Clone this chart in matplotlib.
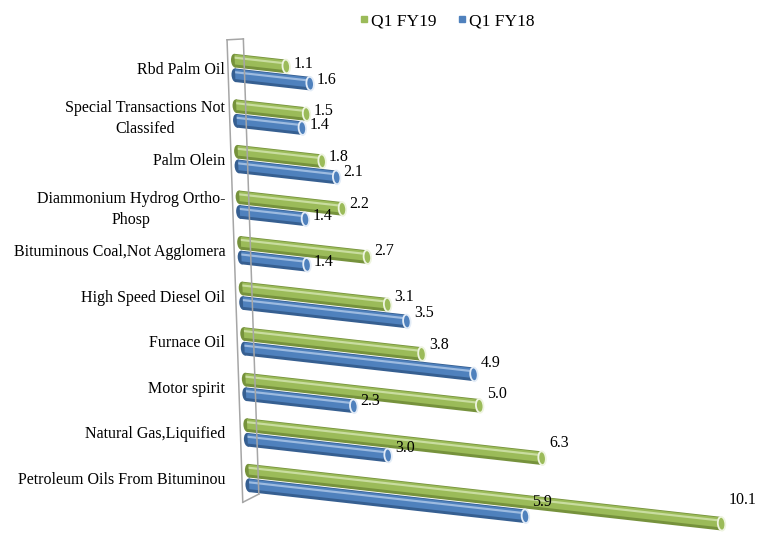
import numpy as np
import matplotlib
matplotlib.use("Agg")
import matplotlib.pyplot as plt
from matplotlib.transforms import Affine2D, ScaledTranslation
from matplotlib.patches import Ellipse
from matplotlib.lines import Line2D

categories = ["Rbd Palm Oil",
              "Special Transactions Not\nClassifed",
              "Palm Olein",
              "Diammonium Hydrog Ortho-\nPhosp",
              "Bituminous Coal,Not Agglomera",
              "High Speed Diesel Oil",
              "Furnace Oil",
              "Motor spirit",
              "Natural Gas,Liquified",
              "Petroleum Oils From Bituminou"]
fy19 = [1.1, 1.5, 1.8, 2.2, 2.7, 3.1, 3.8, 5.0, 6.3, 10.1]
fy18 = [1.6, 1.4, 2.1, 1.4, 1.4, 3.5, 4.9, 2.3, 3.0, 5.9]
series_names = ["Q1 FY19", "Q1 FY18"]

# colours: base, dark, light, cap rim
green = ("#9BBB59", "#76923C", "#C9DDA0", "#EEF4E0")
blue = ("#4F81BD", "#365F91", "#9DBBE0", "#E3ECF7")

plt.rcParams['font.family'] = ['Liberation Serif', 'DejaVu Serif']
plt.rcParams['font.size'] = 11.5

W, H = 763, 538
fig = plt.figure(figsize=(W / 100, H / 100), dpi=100)
ax = fig.add_axes([235 / W, 18 / H, 515 / W, 490 / H])
ax.set_xlim(0, 11)
ax.set_ylim(9.921, -0.833)
for sp in ax.spines.values():
    sp.set_visible(False)
ax.set_xticks([])
ax.set_yticks(range(len(categories)))
ax.set_yticklabels(categories)
ax.tick_params(axis='y', length=0, pad=7)
for t in ax.get_yticklabels():
    t.set_multialignment('center')
    t.set_linespacing(1.45)

# fake 3d perspective: shear around the top-left corner of the plot
ox, oy = ax.transData.transform((0, 0))


def shear(c, s):
    m = np.array([[1, -c, 0], [-s, 1, 0], [0, 0, 1]])
    return Affine2D().translate(-ox, -oy) + Affine2D(m) + Affine2D().translate(ox, oy)


skew = ax.transData + shear(0.034, 0.112)
lab_tr = ax.transData + shear(0.034, 0.062) + ScaledTranslation(5 / 72, 0, fig.dpi_scale_trans)

# back wall outline
wall_kw = dict(color="#A6A6A6", lw=1.1, transform=skew, clip_on=False)
ax.plot([-0.15, -0.15], [-0.6, 9.55], **wall_kw)
ax.plot([0.2, 0.2], [-0.66, 9.33], **wall_kw)
ax.plot([-0.15, 0.2], [-0.6, -0.66], **wall_kw)
ax.plot([-0.15, 0.2], [9.55, 9.33], **wall_kw)

pos = np.arange(len(categories))
h = 0.3
off = 0.16


def cylinders(vals, ypos, col):
    base, dark, light, rim = col
    kw = dict(transform=skew, clip_on=False, linewidth=0)
    ax.barh(ypos, vals, height=h, color=dark, **kw)
    ax.barh(ypos - h * 0.08, vals, height=h * 0.72, color=base, **kw)
    ax.barh(ypos - h * 0.22, vals, height=h * 0.16, color=light, **kw)
    for v, y in zip(vals, ypos):
        e = Ellipse((v, y), width=0.16, height=h, facecolor=base, edgecolor=rim,
                    linewidth=1.3, transform=skew, clip_on=False)
        ax.add_patch(e)
        e0 = Ellipse((0, y), width=0.16, height=h, facecolor=dark, linewidth=0,
                     transform=skew, clip_on=False, zorder=0.9)
        ax.add_patch(e0)
        ax.text(v, y, f"{v:.1f}", ha='left', va='center', transform=lab_tr)


cylinders(fy19, pos - off, green)
cylinders(fy18, pos + off, blue)

handles = [Line2D([], [], marker='s', ls='none', color=green[0], markersize=4.5),
           Line2D([], [], marker='s', ls='none', color=blue[0], markersize=4.5)]
fig.legend(handles, series_names, loc='upper center', bbox_to_anchor=(0.585, 1.005),
           ncol=2, frameon=False, handletextpad=0.05, columnspacing=1.1,
           handlelength=0.7, fontsize=12.5)

fig.savefig("out.png", dpi=100)
